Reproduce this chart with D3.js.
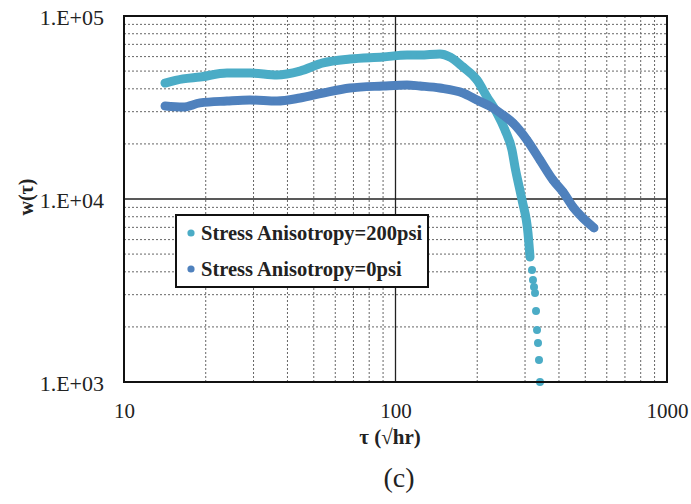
<!DOCTYPE html>
<html>
<head>
<meta charset="utf-8">
<script src="https://cdn.jsdelivr.net/npm/d3@7/dist/d3.min.js"></script>
<style>
  html, body { margin: 0; padding: 0; background: #fff; }
  svg { display: block; }
</style>
</head>
<body>
<svg id="chart" width="691" height="504"></svg>
<script>
// ---------- data ----------
const seriesNames = ["Stress Anisotropy=200psi", "Stress Anisotropy=0psi"];
const seriesColors = ["#4BACC6", "#4F81BD"];

// 200 psi — continuous part
const tau200 = [14.16, 16.49, 19.05, 23.95, 29.12, 36.6, 44.49, 54.08, 67.98, 89.95, 110.3, 123.1, 145.8, 158.7, 177.3, 199.6, 217.3, 236.5, 253.2, 268.6, 275.5, 292.4, 307.6, 312.9];
const w200   = [43000, 45300, 46400, 48800, 48800, 47600, 50000, 55400, 58200, 59700, 61200, 61200, 62000, 59700, 52600, 44700, 36100, 29500, 23800, 18500, 14960, 9880, 6520, 4820];
// 200 psi — sparse tail points
const tau200Tail = [318.3, 320.9, 323.7, 326.5, 329.3, 332.1, 334.9, 337.7, 340.6];
const w200Tail   = [4093, 3607, 3304, 3063, 2443, 1923, 1633, 1318, 1000];

// 0 psi
const tau0 = [14.16, 16.49, 19.05, 23.95, 29.12, 36.6, 44.49, 54.08, 67.98, 89.95, 110.3, 123.1, 145.8, 177.3, 199.6, 228.6, 248.9, 270.9, 305.1, 340.6, 380.3, 414.1, 450.6, 490.4, 538.4];
const w0   = [32200, 31800, 33500, 34300, 34750, 34300, 35650, 37950, 40400, 41450, 42000, 41450, 40400, 37950, 34750, 31440, 28780, 26020, 21000, 16330, 12700, 10920, 9040, 7870, 6950];

const xMajorTicks = [10, 100, 1000];
const xTickLabels = ["10", "100", "1000"];
const yMajorTicks = [1e3, 1e4, 1e5];
const yTickLabels = ["1.E+03", "1.E+04", "1.E+05"];

const xTitle = "τ (√hr)";
const yTitle = "w(τ)";
const caption = "(c)";

// ---------- layout ----------
const svg = d3.select("#chart");
const L = 124, R = 667, T = 16, B = 382;
const serif = "'Liberation Serif', 'Times New Roman', serif";

const x = d3.scaleLog().domain([10, 1000]).range([L, R]);
const y = d3.scaleLog().domain([1e3, 1e5]).range([B, T]);

// grid — minor dotted
const g = svg.append("g");
const xMinor = x.ticks().filter(v => !xMajorTicks.includes(v));
const yMinor = y.ticks().filter(v => !yMajorTicks.includes(v));

g.selectAll(".xminor").data(xMinor).join("line")
  .attr("x1", d => x(d)).attr("x2", d => x(d))
  .attr("y1", T).attr("y2", B)
  .attr("stroke", "#666").attr("stroke-width", 1).attr("stroke-dasharray", "2,2");
g.selectAll(".yminor").data(yMinor).join("line")
  .attr("x1", L).attr("x2", R)
  .attr("y1", d => y(d)).attr("y2", d => y(d))
  .attr("stroke", "#666").attr("stroke-width", 1).attr("stroke-dasharray", "2,2");

// major grid — solid
g.selectAll(".xmajor").data(xMajorTicks).join("line")
  .attr("x1", d => x(d)).attr("x2", d => x(d))
  .attr("y1", T).attr("y2", B)
  .attr("stroke", "#222").attr("stroke-width", 1.3);
g.selectAll(".ymajor").data(yMajorTicks).join("line")
  .attr("x1", L).attr("x2", R)
  .attr("y1", d => y(d)).attr("y2", d => y(d))
  .attr("stroke", "#222").attr("stroke-width", 1.3);

// ---------- series ----------
const line = d3.line().x(d => x(d[0])).y(d => y(d[1])).curve(d3.curveMonotoneX);
const d200 = d3.zip(tau200, w200);
const d200Tail = d3.zip(tau200Tail, w200Tail);
const d0 = d3.zip(tau0, w0);

const plot = svg.append("g");
function drawSeries(pts, tail, color) {
  plot.append("path").datum(pts)
    .attr("d", line).attr("fill", "none")
    .attr("stroke", color).attr("stroke-width", 9)
    .attr("stroke-linecap", "round").attr("stroke-linejoin", "round");
  plot.selectAll(null).data(pts.concat(tail)).join("circle")
    .attr("cx", d => x(d[0])).attr("cy", d => y(d[1]))
    .attr("r", 4).attr("fill", color);
}
drawSeries(d200, d200Tail, seriesColors[0]);
drawSeries(d0, [], seriesColors[1]);

// plot border
svg.append("rect").attr("x", L).attr("y", T).attr("width", R - L).attr("height", B - T)
  .attr("fill", "none").attr("stroke", "#111").attr("stroke-width", 2);

// ---------- axes ----------
const xAxis = svg.append("g").attr("transform", `translate(0,${B})`)
  .call(d3.axisBottom(x).tickValues(xMajorTicks).tickSize(0).tickPadding(0)
    .tickFormat((d, i) => xTickLabels[i]));
xAxis.select(".domain").remove();
xAxis.selectAll("text").attr("y", 0).attr("dy", 0)
  .attr("transform", "translate(0,36)")
  .attr("font-family", serif).attr("font-size", 21).attr("fill", "#222");

const yAxis = svg.append("g").attr("transform", `translate(104,0)`)
  .call(d3.axisLeft(y).tickValues(yMajorTicks).tickSize(0).tickPadding(0)
    .tickFormat((d, i) => yTickLabels[i]));
yAxis.select(".domain").remove();
yAxis.selectAll("text").attr("x", 0).attr("dy", 0)
  .attr("transform", "translate(0,8)")
  .attr("font-family", serif).attr("font-size", 22).attr("fill", "#222");

// titles
svg.append("text").attr("x", 390).attr("y", 444).attr("text-anchor", "middle")
  .attr("font-family", serif).attr("font-size", 21).attr("font-weight", "bold").attr("fill", "#222")
  .text(xTitle);
svg.append("text").attr("transform", "translate(33,197) rotate(-90)").attr("text-anchor", "middle")
  .attr("font-family", serif).attr("font-size", 20).attr("font-weight", "bold").attr("fill", "#222")
  .text(yTitle);
svg.append("text").attr("x", 399).attr("y", 487).attr("text-anchor", "middle")
  .attr("font-family", serif).attr("font-size", 28).attr("fill", "#222")
  .text(caption);

// ---------- legend ----------
const lg = svg.append("g");
lg.append("rect").attr("x", 176).attr("y", 215).attr("width", 252).attr("height", 72)
  .attr("fill", "#fff").attr("stroke", "#111").attr("stroke-width", 2);
seriesNames.forEach((name, i) => {
  const cy = 233 + i * 36;
  lg.append("circle").attr("cx", 191).attr("cy", cy).attr("r", 3.6).attr("fill", seriesColors[i]);
  lg.append("text").attr("x", 201).attr("y", cy + 7)
    .attr("font-family", serif).attr("font-size", 20.5).attr("font-weight", "bold").attr("fill", "#222")
    .text(name);
});
</script>
</body>
</html>
